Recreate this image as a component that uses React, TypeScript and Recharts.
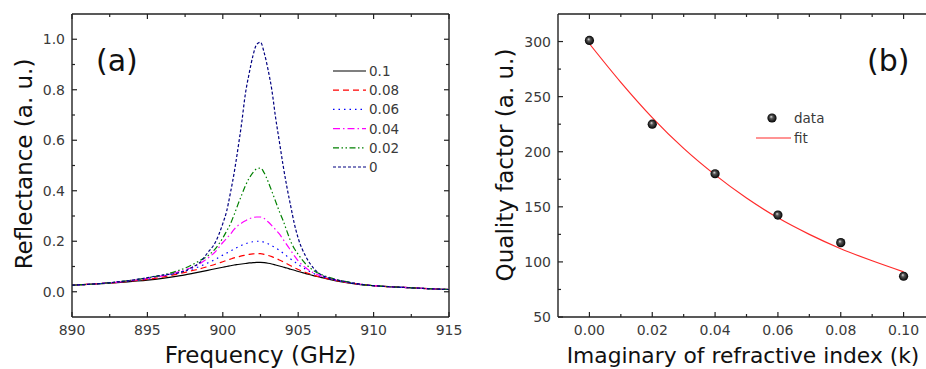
import React from 'react';
import { LineChart, Line, XAxis, YAxis, ComposedChart, Scatter } from 'recharts';

// ---------- Panel (a): reflectance spectra ----------
const freq = [890, 891, 892, 893, 894, 895, 896, 897, 897.5, 898, 898.5, 899, 899.5, 900, 900.25, 900.5, 900.75, 901, 901.25, 901.5, 901.75, 902, 902.25, 902.5, 902.75, 903, 903.25, 903.5, 903.75, 904, 904.25, 904.5, 904.75, 905, 905.5, 906, 906.5, 907, 908, 909, 910, 911, 912, 913, 914, 915];

const refl_k010 = [0.026, 0.029, 0.032, 0.036, 0.041, 0.046, 0.053, 0.062, 0.067, 0.073, 0.079, 0.085, 0.091, 0.097, 0.100, 0.103, 0.106, 0.108, 0.110, 0.112, 0.114, 0.115, 0.116, 0.116, 0.115, 0.113, 0.110, 0.106, 0.102, 0.098, 0.094, 0.089, 0.085, 0.080, 0.072, 0.064, 0.057, 0.050, 0.038, 0.029, 0.024, 0.020, 0.017, 0.014, 0.011, 0.009];
const refl_k008 = [0.026, 0.029, 0.033, 0.037, 0.043, 0.049, 0.058, 0.070, 0.077, 0.084, 0.091, 0.100, 0.109, 0.119, 0.124, 0.129, 0.134, 0.138, 0.142, 0.145, 0.148, 0.150, 0.151, 0.151, 0.148, 0.144, 0.139, 0.133, 0.126, 0.119, 0.111, 0.103, 0.095, 0.088, 0.076, 0.066, 0.058, 0.051, 0.039, 0.030, 0.024, 0.020, 0.017, 0.014, 0.011, 0.009];
const refl_k006 = [0.026, 0.029, 0.033, 0.038, 0.044, 0.051, 0.062, 0.075, 0.082, 0.090, 0.101, 0.114, 0.128, 0.145, 0.153, 0.161, 0.169, 0.177, 0.184, 0.190, 0.195, 0.198, 0.200, 0.200, 0.196, 0.190, 0.182, 0.174, 0.164, 0.153, 0.141, 0.130, 0.119, 0.108, 0.089, 0.073, 0.061, 0.052, 0.040, 0.030, 0.024, 0.020, 0.017, 0.014, 0.011, 0.009];
const refl_k004 = [0.026, 0.029, 0.033, 0.038, 0.045, 0.053, 0.063, 0.078, 0.088, 0.097, 0.112, 0.133, 0.158, 0.195, 0.211, 0.228, 0.247, 0.262, 0.272, 0.281, 0.289, 0.294, 0.296, 0.296, 0.290, 0.277, 0.262, 0.246, 0.229, 0.207, 0.186, 0.164, 0.142, 0.122, 0.095, 0.075, 0.063, 0.055, 0.041, 0.031, 0.024, 0.020, 0.017, 0.014, 0.011, 0.009];
const refl_k002 = [0.026, 0.029, 0.033, 0.039, 0.046, 0.055, 0.066, 0.083, 0.094, 0.108, 0.124, 0.142, 0.170, 0.213, 0.240, 0.268, 0.305, 0.345, 0.383, 0.420, 0.450, 0.472, 0.487, 0.490, 0.470, 0.437, 0.398, 0.358, 0.318, 0.282, 0.240, 0.200, 0.170, 0.148, 0.110, 0.085, 0.069, 0.058, 0.042, 0.031, 0.024, 0.020, 0.017, 0.014, 0.011, 0.009];
const refl_k000 = [0.026, 0.029, 0.033, 0.039, 0.046, 0.056, 0.066, 0.074, 0.083, 0.098, 0.117, 0.155, 0.195, 0.270, 0.318, 0.390, 0.470, 0.565, 0.668, 0.785, 0.865, 0.935, 0.980, 0.988, 0.945, 0.880, 0.800, 0.690, 0.595, 0.500, 0.415, 0.340, 0.268, 0.212, 0.140, 0.095, 0.068, 0.055, 0.042, 0.031, 0.024, 0.020, 0.017, 0.014, 0.011, 0.009];

const seriesValues = [refl_k010, refl_k008, refl_k006, refl_k004, refl_k002, refl_k000];
const seriesNames = ['0.1', '0.08', '0.06', '0.04', '0.02', '0'];
const seriesColors = ['#000000', '#ff0000', '#0000ff', '#ff00ff', '#008000', '#000080'];
const seriesDashes = ['', '6 4', '1.5 4', '7 3 1.5 3', '6 2.5 1.5 2.5 1.5 2.5', '3 2'];

const freqTicks = [890, 895, 900, 905, 910, 915];
const freqMinor = [892.5, 897.5, 902.5, 907.5, 912.5];
const reflTicks = [0, 0.2, 0.4, 0.6, 0.8, 1.0];
const reflMinor = [0.1, 0.3, 0.5, 0.7, 0.9];

// ---------- Panel (b): quality factor ----------
const kValues = [0, 0.02, 0.04, 0.06, 0.08, 0.1];
const qValues = [301, 225, 180, 142.5, 117.5, 87];
const fitK = [0, 0.01, 0.02, 0.03, 0.04, 0.05, 0.06, 0.07, 0.08, 0.09, 0.1];
const fitQ = [298, 263, 231, 203, 179, 158, 140, 125, 112, 101, 91];

const kTicks = [0, 0.02, 0.04, 0.06, 0.08, 0.1];
const kMinor = [0.01, 0.03, 0.05, 0.07, 0.09];
const qTicks = [50, 100, 150, 200, 250, 300];
const qMinor = [75, 125, 175, 225, 275];

const specData = freq.map((f, i) => {
  const row: any = { f };
  seriesValues.forEach((arr, j) => { row['s' + j] = arr[i]; });
  return row;
});
const qData = kValues.map((k, i) => ({ k, q: qValues[i] }));
const fitData = fitK.map((k, i) => ({ k, q: fitQ[i] }));

const FONT = '"DejaVu Sans", sans-serif';
const AX = '#222';
const TXT = '#3a3a3a';

function makeTick(side: string, majors: number[], fmt?: (v: number) => string) {
  return (props: any) => {
    const { x, y, payload } = props;
    const v = payload.value;
    const major = majors.some((m) => Math.abs(m - v) < 1e-9);
    const L = major ? 5 : 3;
    let line: any = null;
    let label: any = null;
    if (side === 'bottom') {
      line = <line x1={x} y1={y} x2={x} y2={y - L} stroke={AX} strokeWidth={1.2} />;
      if (major && fmt) label = <text x={x} y={y + 18} textAnchor="middle" fontFamily={FONT} fontSize={14} fill={TXT}>{fmt(v)}</text>;
    } else if (side === 'top') {
      line = <line x1={x} y1={y} x2={x} y2={y + L} stroke={AX} strokeWidth={1.2} />;
    } else if (side === 'left') {
      line = <line x1={x} y1={y} x2={x + L} y2={y} stroke={AX} strokeWidth={1.2} />;
      if (major && fmt) label = <text x={x - 7} y={y + 5} textAnchor="end" fontFamily={FONT} fontSize={14} fill={TXT}>{fmt(v)}</text>;
    } else {
      line = <line x1={x} y1={y} x2={x - L} y2={y} stroke={AX} strokeWidth={1.2} />;
    }
    return <g>{line}{label}</g>;
  };
}

const axisLine = { stroke: AX, strokeWidth: 1.4 };

const Sphere = (props: any) => {
  const { cx, cy, index } = props;
  if (cx == null || cy == null) return null;
  const id = 'sph' + index;
  return (
    <g>
      <defs>
        <radialGradient id={id} cx="0.5" cy="0.5" r="0.5" fx="0.4" fy="0.35">
          <stop offset="0" stopColor="#e0e0e0" />
          <stop offset="0.35" stopColor="#555" />
          <stop offset="1" stopColor="#000" />
        </radialGradient>
      </defs>
      <circle cx={cx} cy={cy} r={4.6} fill={`url(#${id})`} />
    </g>
  );
};

export default function App() {
  return (
    <div style={{ position: 'absolute', left: 0, top: 0, width: 926, height: 369, overflow: 'hidden', background: '#fff' }}>
      <div style={{ position: 'absolute', left: 0, top: 0 }}>
        <LineChart width={463} height={369} data={specData} margin={{ top: 0, right: 0, bottom: 0, left: 0 }}>
          <XAxis xAxisId="b" dataKey="f" type="number" domain={[890, 915]} allowDataOverflow orientation="bottom" height={52}
            ticks={[...freqTicks, ...freqMinor]} interval={0} tickSize={0} tickMargin={0} tickLine={false} axisLine={axisLine}
            tick={makeTick('bottom', freqTicks, (v) => String(v))} />
          <XAxis xAxisId="t" dataKey="f" type="number" domain={[890, 915]} allowDataOverflow orientation="top" height={14}
            ticks={[...freqTicks, ...freqMinor]} interval={0} tickSize={0} tickMargin={0} tickLine={false} axisLine={axisLine}
            tick={makeTick('top', freqTicks)} />
          <YAxis yAxisId="l" type="number" domain={[-0.1, 1.1]} allowDataOverflow orientation="left" width={72}
            ticks={[...reflTicks, ...reflMinor]} interval={0} tickSize={0} tickMargin={0} tickLine={false} axisLine={axisLine}
            tick={makeTick('left', reflTicks, (v) => v.toFixed(1))} />
          <YAxis yAxisId="r" type="number" domain={[-0.1, 1.1]} allowDataOverflow orientation="right" width={14}
            ticks={[...reflTicks, ...reflMinor]} interval={0} tickSize={0} tickMargin={0} tickLine={false} axisLine={axisLine}
            tick={makeTick('right', reflTicks)} />
          {seriesNames.map((n, j) => (
            <Line key={n} xAxisId="b" yAxisId="l" dataKey={'s' + j} name={n} type="monotone" stroke={seriesColors[j]}
              strokeWidth={1.2} strokeDasharray={seriesDashes[j] || undefined} dot={false} activeDot={false} isAnimationActive={false} />
          ))}
        </LineChart>
      </div>
      <div style={{ position: 'absolute', left: 463, top: 0 }}>
        <ComposedChart width={480} height={369} margin={{ top: 0, right: 0, bottom: 0, left: 0 }}>
          <XAxis xAxisId="b" dataKey="k" type="number" domain={[-0.01, 0.11]} allowDataOverflow orientation="bottom" height={52}
            ticks={[...kTicks, ...kMinor]} interval={0} tickSize={0} tickMargin={0} tickLine={false} axisLine={axisLine}
            tick={makeTick('bottom', kTicks, (v) => v.toFixed(2))} />
          <XAxis xAxisId="t" dataKey="k" type="number" domain={[-0.01, 0.11]} allowDataOverflow orientation="top" height={14}
            ticks={[...kTicks, ...kMinor]} interval={0} tickSize={0} tickMargin={0} tickLine={false} axisLine={axisLine}
            tick={makeTick('top', kTicks)} />
          <YAxis yAxisId="l" dataKey="q" type="number" domain={[50, 325]} allowDataOverflow orientation="left" width={95}
            ticks={[...qTicks, ...qMinor]} interval={0} tickSize={0} tickMargin={0} tickLine={false} axisLine={axisLine}
            tick={makeTick('left', qTicks, (v) => String(v))} />
          <YAxis yAxisId="r" dataKey="q" type="number" domain={[50, 325]} allowDataOverflow orientation="right" width={8}
            ticks={[...qTicks, ...qMinor]} interval={0} tickSize={0} tickMargin={0} tickLine={false} axisLine={axisLine}
            tick={makeTick('right', qTicks)} />
          <Line xAxisId="b" yAxisId="l" data={fitData} dataKey="q" name="fit" type="monotone" stroke="#ff2a2a" strokeWidth={1.2}
            dot={false} activeDot={false} isAnimationActive={false} />
          <Scatter xAxisId="b" yAxisId="l" data={qData} dataKey="q" name="data" shape={<Sphere />} isAnimationActive={false} />
        </ComposedChart>
      </div>
      <svg width={926} height={369} style={{ position: 'absolute', left: 0, top: 0, pointerEvents: 'none' }}>
        <g fontFamily={FONT}>
          <text x={260.5} y={363} textAnchor="middle" fontSize={23} fill="#111">Frequency (GHz)</text>
          <text transform="translate(32,164) rotate(-90)" textAnchor="middle" fontSize={23} fill="#111">Reflectance (a. u.)</text>
          <text x={743} y={363} textAnchor="middle" fontSize={21.8} fill="#111">Imaginary of refractive index (k)</text>
          <text transform="translate(513,165) rotate(-90)" textAnchor="middle" fontSize={23} fill="#111">Quality factor (a. u.)</text>
          <text x={96} y={71} fontSize={30} fill="#111">(a)</text>
          <text x={867} y={71} fontSize={30} fill="#111">(b)</text>
          {seriesNames.map((n, j) => {
            const y = 71 + j * 19.2;
            return (
              <g key={n}>
                <line x1={333} y1={y} x2={366} y2={y} stroke={seriesColors[j]} strokeWidth={1.2} strokeDasharray={seriesDashes[j] || undefined} />
                <text x={369} y={y + 5} fontSize={13.5} fill={TXT}>{n}</text>
              </g>
            );
          })}
          <Sphere cx={772} cy={118} index={99} />
          <text x={794} y={123} fontSize={13.5} fill={TXT}>data</text>
          <line x1={756} y1={138} x2={791} y2={138} stroke="#ff2a2a" strokeWidth={1.2} />
          <text x={794} y={143} fontSize={13.5} fill={TXT}>fit</text>
        </g>
      </svg>
    </div>
  );
}
